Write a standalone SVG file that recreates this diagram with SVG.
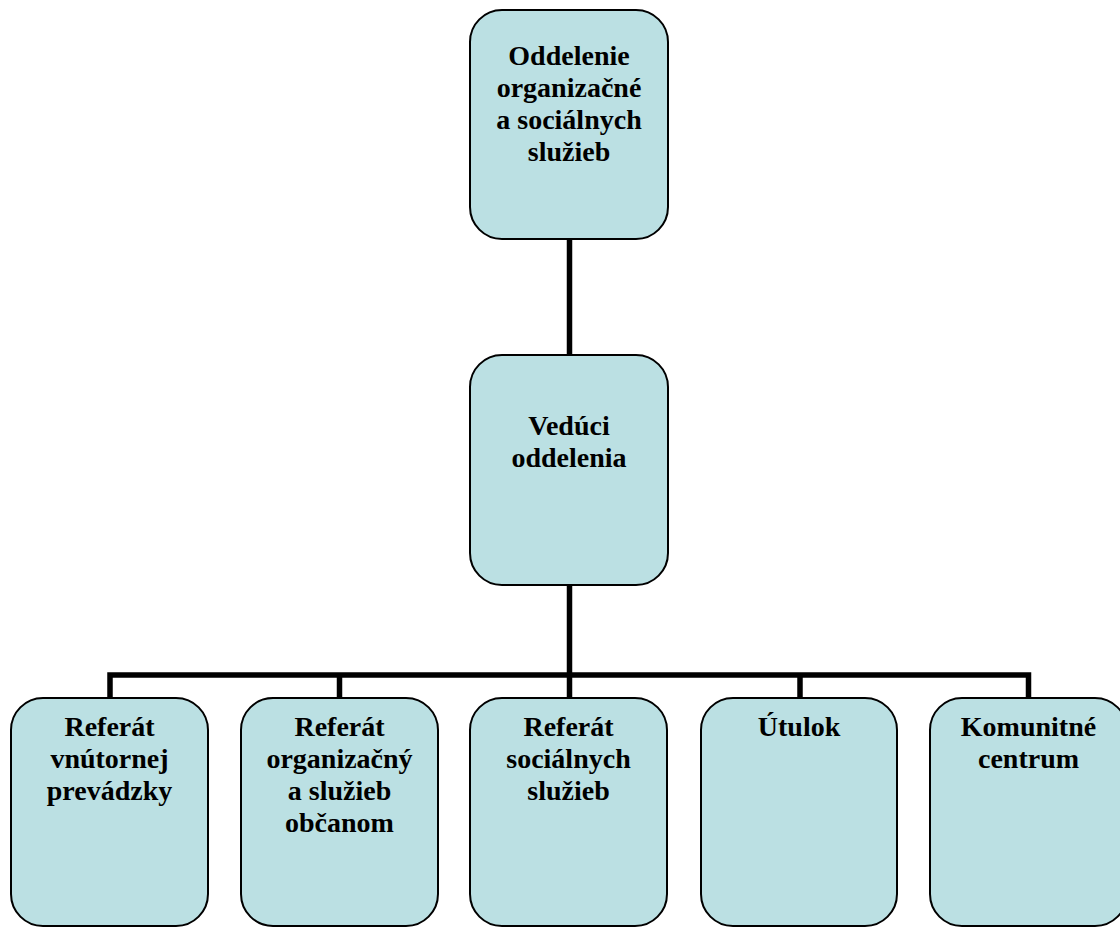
<svg xmlns="http://www.w3.org/2000/svg" width="1120" height="927" viewBox="0 0 1120 927">
<style>
.box{fill:#BBE0E3;stroke:#000;stroke-width:2}
.lbl{font-family:"Liberation Serif","Times New Roman",serif;font-weight:bold;font-size:28px;fill:#000;text-anchor:middle}
.con{stroke:#000;stroke-width:5.5;fill:none}
</style>
<rect width="1120" height="927" fill="#fff"/>
<g id="connectors">
<line class="con" x1="569.5" y1="239" x2="569.5" y2="356"/>
<line class="con" x1="569.5" y1="585" x2="569.5" y2="675"/>
<polyline class="con" points="110,698 110,675 1028.5,675 1028.5,698"/>
<line class="con" x1="339.5" y1="675" x2="339.5" y2="698"/>
<line class="con" x1="569.5" y1="675" x2="569.5" y2="698"/>
<line class="con" x1="800" y1="675" x2="800" y2="698"/>
</g>
<g id="n-top">
<rect class="box" x="470" y="10" width="198" height="229" rx="32"/>
<text class="lbl" x="569" y="65">Oddelenie</text>
<text class="lbl" x="569" y="97">organizačné</text>
<text class="lbl" x="569" y="129">a sociálnych</text>
<text class="lbl" x="569" y="161">služieb</text>
</g>
<g id="n-veduci">
<rect class="box" x="470" y="355" width="198" height="230" rx="32"/>
<text class="lbl" x="569" y="435">Vedúci</text>
<text class="lbl" x="569" y="467">oddelenia</text>
</g>
<g id="n-ref1">
<rect class="box" x="11" y="698" width="197" height="228" rx="32"/>
<text class="lbl" x="109.5" y="736">Referát</text>
<text class="lbl" x="109.5" y="768">vnútornej</text>
<text class="lbl" x="109.5" y="800">prevádzky</text>
</g>
<g id="n-ref2">
<rect class="box" x="241" y="698" width="197" height="228" rx="32"/>
<text class="lbl" x="339.5" y="736">Referát</text>
<text class="lbl" x="339.5" y="768">organizačný</text>
<text class="lbl" x="339.5" y="800">a služieb</text>
<text class="lbl" x="339.5" y="832">občanom</text>
</g>
<g id="n-ref3">
<rect class="box" x="470" y="698" width="197" height="228" rx="32"/>
<text class="lbl" x="568.5" y="736">Referát</text>
<text class="lbl" x="568.5" y="768">sociálnych</text>
<text class="lbl" x="568.5" y="800">služieb</text>
</g>
<g id="n-utulok">
<rect class="box" x="701" y="698" width="196" height="228" rx="32"/>
<text class="lbl" x="799" y="736">Útulok</text>
</g>
<g id="n-komunitne">
<rect class="box" x="930" y="698" width="197" height="228" rx="32"/>
<text class="lbl" x="1028.5" y="736">Komunitné</text>
<text class="lbl" x="1028.5" y="768">centrum</text>
</g>
</svg>
